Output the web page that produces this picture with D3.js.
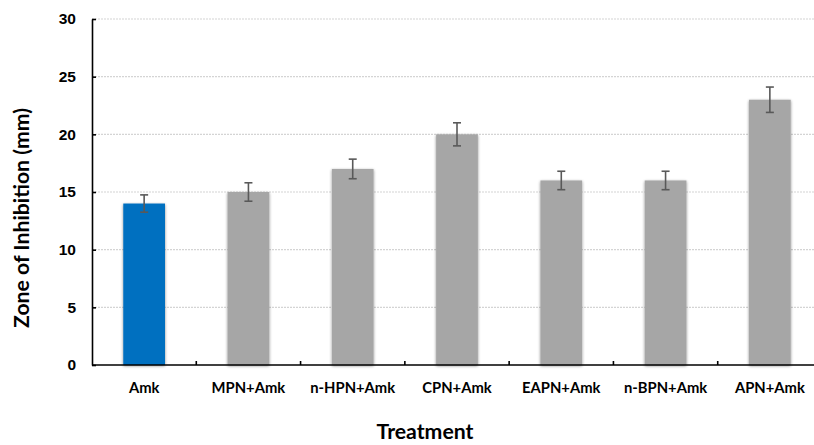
<!DOCTYPE html>
<html>
<head>
<meta charset="utf-8">
<script src="https://cdn.jsdelivr.net/npm/d3@7"></script>
<style>
  html, body { margin: 0; padding: 0; background: #fff; }
  svg { display: block; font-family: Lato, "Open Sans", "Liberation Sans", sans-serif; }
</style>
</head>
<body>
<svg id="chart" width="814" height="445"></svg>
<script>
// Zone of inhibition per treatment (mm) with error margins
const treatments = ["Amk", "MPN+Amk", "n-HPN+Amk", "CPN+Amk", "EAPN+Amk", "n-BPN+Amk", "APN+Amk"];
const zoneMeans = [14, 15, 17, 20, 16, 16, 23];
const zoneErrors = [0.75, 0.8, 0.85, 1.0, 0.8, 0.8, 1.1];
const yTicks = [0, 5, 10, 15, 20, 25, 30];

const svg = d3.select("#chart");
const margin = { left: 92, top: 19, bottom: 80 };
const plotW = 730;          // plot runs slightly past the right edge
const plotH = 445 - margin.top - margin.bottom;

const x = d3.scaleBand().domain(treatments).range([margin.left, margin.left + plotW]).paddingInner(0.6).paddingOuter(0.3);
const xBand = d3.scaleBand().domain(treatments).range([margin.left, margin.left + plotW]);
const y = d3.scaleLinear().domain([0, 30]).range([margin.top + plotH, margin.top]);

// scale a text's font size so it spans the given width
function fitWidth(sel, target, base) {
  sel.attr("font-size", base);
  const w = sel.node().getComputedTextLength();
  sel.attr("font-size", base * target / w);
}

// soft drop shadow around bars
const defs = svg.append("defs");
const f = defs.append("filter").attr("id", "soft").attr("x", "-20%").attr("y", "-5%").attr("width", "140%").attr("height", "110%");
f.append("feGaussianBlur").attr("in", "SourceAlpha").attr("stdDeviation", 1.6).attr("result", "b");
f.append("feOffset").attr("in", "b").attr("dx", 0).attr("dy", 0.5).attr("result", "o");
f.append("feComponentTransfer").attr("in", "o").attr("result", "s")
  .append("feFuncA").attr("type", "linear").attr("slope", 0.45);
const m = f.append("feMerge");
m.append("feMergeNode").attr("in", "s");
m.append("feMergeNode").attr("in", "SourceGraphic");

// gridlines
svg.append("g").selectAll("line").data(yTicks.filter(d => d > 0)).join("line")
  .attr("x1", margin.left).attr("x2", 814)
  .attr("y1", d => y(d)).attr("y2", d => y(d))
  .attr("stroke", "#d4d4d4").attr("stroke-width", 1.2).attr("stroke-dasharray", "2,1");

// bars
svg.append("g").selectAll("rect").data(treatments).join("rect")
  .attr("x", d => x(d)).attr("width", x.bandwidth())
  .attr("y", (d, i) => y(zoneMeans[i]))
  .attr("height", (d, i) => y(0) - y(zoneMeans[i]))
  .attr("fill", (d, i) => i === 0 ? "#0070c0" : "#a6a6a6")
  .attr("filter", "url(#soft)");

// error bars
const eb = svg.append("g").attr("stroke", "#595959").attr("stroke-width", 1.6);
treatments.forEach((t, i) => {
  const cx = x(t) + x.bandwidth() / 2;
  const top = y(zoneMeans[i] + zoneErrors[i]);
  const bot = y(zoneMeans[i] - zoneErrors[i]);
  eb.append("line").attr("x1", cx).attr("x2", cx).attr("y1", top).attr("y2", bot);
  eb.append("line").attr("x1", cx - 4).attr("x2", cx + 4).attr("y1", top).attr("y2", top);
  eb.append("line").attr("x1", cx - 4).attr("x2", cx + 4).attr("y1", bot).attr("y2", bot);
});

// y axis
const yAxis = svg.append("g").attr("transform", `translate(${margin.left},0)`)
  .call(d3.axisLeft(y).tickValues(yTicks).tickSizeInner(-4).tickSizeOuter(0).tickPadding(16));
yAxis.select(".domain").attr("stroke", "#000").attr("stroke-width", 1.6);
yAxis.selectAll(".tick line").attr("stroke", "#000").attr("stroke-width", 1.6);
yAxis.selectAll("text").attr("font-size", 15.5).attr("font-weight", "bold").attr("fill", "#000");

// x axis with ticks between categories
const xAxisG = svg.append("g").attr("transform", `translate(0,${y(0)})`);
xAxisG.append("line").attr("x1", margin.left).attr("x2", margin.left + plotW)
  .attr("stroke", "#000").attr("stroke-width", 1.6);
xAxisG.selectAll(".sep").data(treatments.slice(1)).join("line").attr("class", "sep")
  .attr("x1", d => xBand(d)).attr("x2", d => xBand(d)).attr("y1", 0).attr("y2", -4)
  .attr("stroke", "#000").attr("stroke-width", 1.6);
const xLabels = xAxisG.selectAll("text").data(treatments).join("text")
  .attr("x", d => x(d) + x.bandwidth() / 2).attr("y", 28)
  .attr("text-anchor", "middle").attr("font-weight", "bold").attr("fill", "#000")
  .text(d => d);
fitWidth(xLabels.filter(d => d === "n-HPN+Amk"), 85, 14);
xLabels.attr("font-size", xLabels.filter(d => d === "n-HPN+Amk").attr("font-size"));

// axis titles
const xTitle = svg.append("text").attr("x", 425).attr("y", 439)
  .attr("text-anchor", "middle").attr("font-weight", "bold").text("Treatment");
fitWidth(xTitle, 97, 18);
const yTitle = svg.append("text").attr("transform", "translate(29,218) rotate(-90)")
  .attr("text-anchor", "middle").attr("font-weight", "bold").text("Zone of Inhibition (mm)");
fitWidth(yTitle, 220, 18);
</script>
</body>
</html>
